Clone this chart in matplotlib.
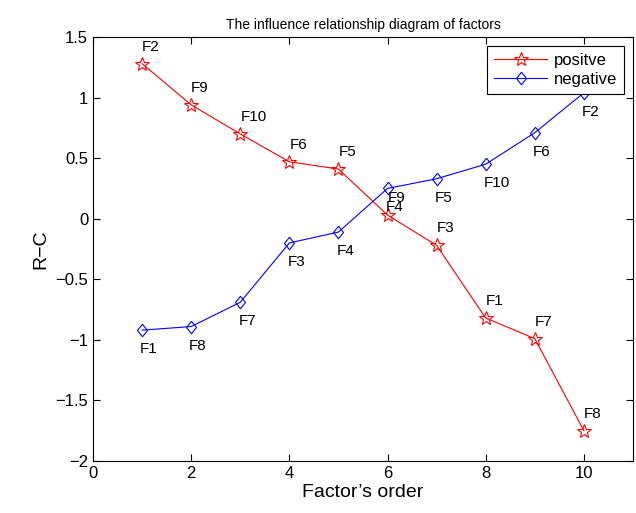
import matplotlib
matplotlib.use("Agg")
import matplotlib.pyplot as plt

plt.rcParams['font.family'] = ['Liberation Sans', 'DejaVu Sans']

order = [1, 2, 3, 4, 5, 6, 7, 8, 9, 10]
pos_vals = [1.28, 0.94, 0.70, 0.47, 0.41, 0.03, -0.22, -0.82, -0.99, -1.75]
pos_labels = ["F2", "F9", "F10", "F6", "F5", "F9", "F3", "F1", "F7", "F8"]
neg_vals = [-0.92, -0.89, -0.69, -0.20, -0.11, 0.25, 0.33, 0.45, 0.71, 1.04]
neg_labels = ["F1", "F8", "F7", "F3", "F4", "F4", "F5", "F10", "F6", "F2"]
x_ticks = [0, 2, 4, 6, 8, 10]
y_ticks = [-2, -1.5, -1, -0.5, 0, 0.5, 1, 1.5]
y_ticklabels = ["\u22122", "\u22121.5", "\u22121", "\u22120.5", "0", "0.5", "1", "1.5"]

diamond = [(0, 1), (0.8, 0), (0, -1), (-0.8, 0), (0, 1)]

fig = plt.figure(figsize=(6.36, 5.13), dpi=100)
ax = fig.add_axes([93/636, 52/513, 540/636, 424/513])

ax.plot(order, pos_vals, color='red', lw=0.8, marker='*', ms=10,
        mfc='none', mec='red', mew=0.8, label='positve')
ax.plot(order, neg_vals, color='blue', lw=0.8, marker=diamond, ms=9,
        mfc='none', mec='blue', mew=0.8, label='negative')

for x, y, t in zip(order, pos_vals, pos_labels):
    ax.annotate(t, (x, y), xytext=(0, 10), textcoords='offset pixels',
                ha='left', va='bottom', fontsize=11)
for x, y, t in zip(order, neg_vals, neg_labels):
    ax.annotate(t, (x, y), xytext=(-2, -12), textcoords='offset pixels',
                ha='left', va='top', fontsize=11)

ax.set_xlim(0, 11)
ax.set_ylim(-2, 1.5)
ax.set_xticks(x_ticks)
ax.set_yticks(y_ticks)
ax.set_yticklabels(y_ticklabels)
ax.tick_params(direction='in', top=True, right=True, labelsize=12, length=5)
for s in ax.spines.values():
    s.set_linewidth(0.8)

ax.set_xlabel("Factor\u2019s order", fontsize=14, labelpad=2)
ax.set_ylabel("R\u2212C", fontsize=14)
ax.set_title("The influence relationship diagram of factors", fontsize=10, pad=6)

leg = ax.legend(loc='upper right', fontsize=12, fancybox=False, edgecolor='black',
                framealpha=1, borderaxespad=0.55, handlelength=3.2,
                handletextpad=0.4, borderpad=0.4, labelspacing=0.25)
leg.get_frame().set_linewidth(0.8)

fig.savefig("out.png", dpi=100)
